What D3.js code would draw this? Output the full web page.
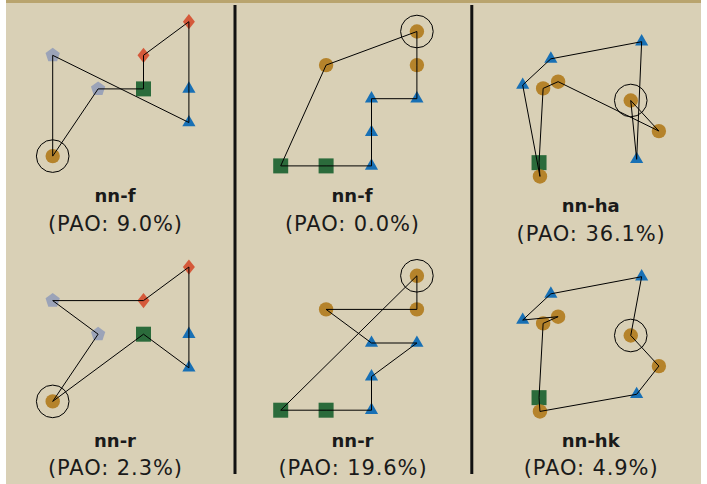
<!DOCTYPE html>
<html>
<head>
<meta charset="utf-8">
<script src="https://cdn.jsdelivr.net/npm/d3@7"></script>
<style>
  body { margin: 0; background: #ffffff; }
  text { font-family: "DejaVu Sans", sans-serif; fill: #1a1a1a; }
</style>
</head>
<body>
<div id="chart"></div>
<script>
// Node sets, in grid units (x 0..3 left to right, y 0..4 top to bottom)
const shapesA = ["circle", "pentagon", "pentagon", "square", "diamond", "diamond", "triangle", "triangle"];
const nodeXA = [0, 0, 1, 2, 2, 3, 3, 3];
const nodeYA = [4, 1, 2, 2, 1, 0, 2, 3];

const shapesB = ["circle", "circle", "circle", "triangle", "triangle", "triangle", "triangle", "square", "square"];
const nodeXB = [3, 1, 3, 2, 3, 2, 2, 0, 1];
const nodeYB = [0, 1, 1, 2, 2, 3, 4, 4, 4];

const shapesC = ["circle", "triangle", "triangle", "triangle", "triangle", "circle", "circle", "circle", "square", "circle"];
const nodeXC = [2.38, 0, 0.62, 2.62, 2.51, 0.45, 0.78, 3.0, 0.36, 0.38];
const nodeYC = [1.75, 1.29, 0.51, 0, 3.5, 1.39, 1.19, 2.66, 3.6, 4.01];

// Tours (node indices, first node is the start, marked by a ring)
const tourAf = [0, 1, 7, 6, 5, 4, 3, 2, 0];
const tourAr = [0, 2, 1, 4, 5, 6, 7, 3, 0];
const tourBf = [0, 1, 7, 8, 6, 5, 3, 4, 2, 0];
const tourBr = [0, 7, 8, 6, 5, 4, 3, 1, 2, 0];
const tourCha = [0, 7, 6, 5, 8, 9, 1, 2, 3, 4, 0];
const tourChk = [0, 7, 4, 9, 8, 5, 6, 1, 2, 3, 0];

const titles = ["nn-f", "nn-f", "nn-ha", "nn-r", "nn-r", "nn-hk"];
const paoValues = [9.0, 0.0, 36.1, 2.3, 19.6, 4.9];

const nodeSets = [
  [shapesA, nodeXA, nodeYA], [shapesB, nodeXB, nodeYB], [shapesC, nodeXC, nodeYC],
  [shapesA, nodeXA, nodeYA], [shapesB, nodeXB, nodeYB], [shapesC, nodeXC, nodeYC]
];
const tours = [tourAf, tourBf, tourCha, tourAr, tourBr, tourChk];

// layout of the six panels
const W = 707, H = 484;
const unitX = 45.4, unitY = 33.6;
const panelX0 = [52.7, 280.7, 522.7, 52.7, 280.7, 522.7];
const panelY0 = [21.7, 31.5, 41.7, 267, 275.8, 276.7];
const titleX = [115, 352, 590.7, 115, 352.5, 590.7];
const titleY = [201.7, 202, 212.3, 446.7, 446.7, 446.7];
const paoY = [231, 231, 240.7, 475, 475, 475];

const colors = {
  circle: "#b5832b",
  triangle: "#1870b5",
  square: "#2b6b3b",
  diamond: "#d5593a",
  pentagon: "#9ba3b8"
};

function pentagonPath(r) {
  const pts = d3.range(5).map(i => {
    const a = -Math.PI / 2 + i * 2 * Math.PI / 5;
    return [r * Math.cos(a), r * Math.sin(a)];
  });
  return "M" + pts.map(p => p.join(",")).join("L") + "Z";
}
function diamondPath(hw, hh) {
  return `M0,${-hh}L${hw},0L0,${hh}L${-hw},0Z`;
}
const shapePaths = {
  circle: d3.symbol(d3.symbolCircle, Math.PI * 7.2 * 7.2)(),
  square: d3.symbol(d3.symbolSquare, 15 * 15)(),
  triangle: d3.symbol(d3.symbolTriangle, 75)(),
  diamond: diamondPath(6, 7.6),
  pentagon: pentagonPath(7.5)
};

const svg = d3.select("#chart").append("svg")
  .attr("width", W)
  .attr("height", H);

// panel background
svg.append("rect")
  .attr("x", 6).attr("y", 0)
  .attr("width", 695).attr("height", H)
  .attr("fill", "#d9d0b6");
svg.append("rect")
  .attr("x", 6).attr("y", 0)
  .attr("width", 695).attr("height", 3)
  .attr("fill", "#b9a46e");

// column separators
[235, 471.8].forEach(x => {
  svg.append("line")
    .attr("x1", x).attr("x2", x)
    .attr("y1", 5).attr("y2", 474)
    .attr("stroke", "#111")
    .attr("stroke-width", 3);
});

titles.forEach((title, p) => {
  const [shapes, xs, ys] = nodeSets[p];
  const x = d3.scaleLinear().domain([0, 3]).range([panelX0[p], panelX0[p] + 3 * unitX]);
  const y = d3.scaleLinear().domain([0, 4]).range([panelY0[p], panelY0[p] + 4 * unitY]);

  const g = svg.append("g").attr("class", "panel");
  const nodes = shapes.map((s, i) => ({ shape: s, x: xs[i], y: ys[i] }));

  g.selectAll("path.node")
    .data(nodes)
    .enter().append("path")
    .attr("class", "node")
    .attr("d", d => shapePaths[d.shape])
    .attr("transform", d => `translate(${x(d.x)},${y(d.y)})`)
    .attr("fill", d => colors[d.shape]);

  const line = d3.line().x(i => x(nodes[i].x)).y(i => y(nodes[i].y));
  g.append("path")
    .attr("d", line(tours[p]))
    .attr("fill", "none")
    .attr("stroke", "#000")
    .attr("stroke-width", 1);

  const start = nodes[tours[p][0]];
  g.append("circle")
    .attr("cx", x(start.x))
    .attr("cy", y(start.y))
    .attr("r", 16.3)
    .attr("fill", "none")
    .attr("stroke", "#000")
    .attr("stroke-width", 1);

  g.append("text")
    .attr("x", titleX[p])
    .attr("y", titleY[p])
    .attr("text-anchor", "middle")
    .style("font-size", "18px")
    .style("font-weight", "bold")
    .text(title);

  // letter-spacing widens the sans text to the reference width
  g.append("text")
    .attr("x", titleX[p] + 0.45)
    .attr("y", paoY[p])
    .attr("text-anchor", "middle")
    .style("font-size", "21px")
    .style("letter-spacing", "0.9px")
    .text(`(PAO: ${paoValues[p].toFixed(1)}%)`);
});
</script>
</body>
</html>
